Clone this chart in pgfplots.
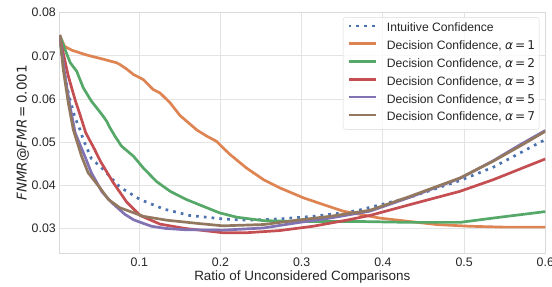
\documentclass[border=0pt]{standalone}
\usepackage{pgfplots}
\pgfplotsset{compat=1.18}
\usepackage{fontspec}
\setmainfont{Liberation Sans}
\newfontfamily\dejavu{DejaVu Sans}
\definecolor{cblue}{HTML}{4C72B0}
\definecolor{corange}{HTML}{DD8452}
\definecolor{cgreen}{HTML}{55A868}
\definecolor{cred}{HTML}{C44E52}
\definecolor{cpurple}{HTML}{8172B3}
\definecolor{cbrown}{HTML}{937860}
\definecolor{txt}{HTML}{262626}
\definecolor{gridc}{HTML}{E3E3E3}
\definecolor{spine}{HTML}{DADADA}
\begin{document}
\begin{tikzpicture}
\useasboundingbox (-59.3bp,-34bp) rectangle (492.7bp,253bp);
\begin{axis}[
  at={(0,0)}, anchor=south west,
  scale only axis, width=486bp, height=240.3bp,
  xmin=0.0015, xmax=0.6, ymin=0.0243, ymax=0.08,
  scaled ticks=false,
  xtick={0.1,0.2,0.3,0.4,0.5,0.6},
  xticklabels={0.1,0.2,0.3,0.4,0.5,0.6},
  ytick={0.03,0.04,0.05,0.06,0.07,0.08},
  yticklabels={0.03,0.04,0.05,0.06,0.07,0.08},
  major tick length=0pt,
  grid=major,
  major grid style={draw=gridc, line width=0.9bp},
  axis line style={draw=spine, line width=1bp},
  tick label style={font=\fontsize{12.4}{14}\selectfont, text=txt},
  xticklabel style={yshift=-1bp},
  label style={font=\fontsize{13.5}{15}\selectfont, text=txt},
  xlabel={Ratio of Unconsidered Comparisons},
  ylabel={{\dejavu\textit{FNMR}@\textit{FMR}\,=\,0.001}},
  xlabel style={yshift=2bp},
  ylabel style={yshift=-4bp},
  legend cell align=left,
  legend image code/.code={\draw[#1] (0bp,3bp) -- (27bp,3bp);},
  legend style={at={(1,1)}, anchor=north east, xshift=-6bp, yshift=-4.5bp,
    draw=spine, rounded corners=2.5bp, fill=white, fill opacity=0.8, text opacity=1,
    font=\fontsize{12.2}{14}\selectfont, text=txt,
    nodes={inner sep=0pt, text height=9bp, text depth=3bp},
    row sep=5.8bp, column sep=10bp, inner xsep=4bp, inner ysep=5.5bp},
  every axis plot/.append style={line width=2.7bp, line join=round},
]
\addplot[cblue, line cap=butt, dash pattern=on 2.7bp off 5.1bp] coordinates {
(0.002,0.0745) (0.006,0.0680) (0.013,0.0610) (0.021,0.0556) (0.027,0.0529)
(0.031,0.0506) (0.041,0.0462) (0.056,0.0436) (0.076,0.0396) (0.101,0.0367)
(0.130,0.0345) (0.162,0.0330) (0.203,0.0322)
(0.232,0.0319) (0.273,0.0322) (0.314,0.0328) (0.355,0.0337) (0.372,0.0343)
(0.433,0.0372) (0.495,0.0411) (0.536,0.0442) (0.600,0.0506)};
\addlegendentry{Intuitive Confidence}
\addplot[corange] coordinates {
(0.002,0.0748) (0.008,0.0722) (0.017,0.0713) (0.035,0.0702) (0.054,0.0693)
(0.072,0.0684) (0.076,0.0680) (0.084,0.0670) (0.0926,0.0657) (0.105,0.0645)
(0.117,0.0622) (0.1255,0.0614) (0.138,0.0591) (0.150,0.0562) (0.158,0.0549)
(0.171,0.0528) (0.183,0.0514) (0.195,0.0502) (0.203,0.0487) (0.212,0.0471)
(0.232,0.0440) (0.253,0.0413)
(0.273,0.0394) (0.302,0.0371) (0.327,0.0355) (0.351,0.0340) (0.396,0.0324)
(0.433,0.0316) (0.466,0.0309) (0.507,0.0305) (0.548,0.0303) (0.600,0.0303)};
\addlegendentry{Decision Confidence, {\dejavu\textit{α}\,=\,1}}
\addplot[cgreen] coordinates {
(0.002,0.0748) (0.0085,0.0715) (0.015,0.0684) (0.023,0.0664) (0.031,0.0626)
(0.041,0.0595) (0.054,0.0564) (0.060,0.0548) (0.064,0.0533) (0.070,0.0514)
(0.078,0.0491) (0.093,0.0467) (0.105,0.0440) (0.121,0.0409) (0.138,0.0386)
(0.158,0.0367) (0.179,0.0351) (0.199,0.0336) (0.220,0.0326) (0.253,0.0318)
(0.294,0.0316) (0.335,0.0316)
(0.372,0.0316) (0.433,0.0314) (0.495,0.0314) (0.536,0.0324) (0.600,0.0339)};
\addlegendentry{Decision Confidence, {\dejavu\textit{α}\,=\,2}}
\addplot[cred] coordinates {
(0.002,0.0748) (0.0044,0.0723) (0.0126,0.0653) (0.0208,0.0599) (0.029,0.0552)
(0.034,0.0522) (0.045,0.0483) (0.052,0.0456) (0.068,0.0406) (0.0845,0.0361)
(0.101,0.0330) (0.1255,0.0310) (0.156,0.0300) (0.203,0.0290) (0.232,0.0290)
(0.273,0.0295) (0.314,0.0305) (0.355,0.0319) (0.384,0.0330) (0.433,0.0355)
(0.495,0.0386) (0.536,0.0413) (0.600,0.0461)};
\addlegendentry{Decision Confidence, {\dejavu\textit{α}\,=\,3}}
\addplot[cpurple] coordinates {
(0.002,0.0748) (0.0085,0.0653) (0.0147,0.0583) (0.021,0.0522) (0.024,0.0508)
(0.033,0.0467) (0.041,0.0429) (0.054,0.0385) (0.066,0.0360) (0.082,0.0333)
(0.093,0.0320) (0.103,0.0313) (0.115,0.0305) (0.132,0.0300) (0.156,0.0297)
(0.203,0.0296) (0.253,0.0301)
(0.294,0.0313) (0.335,0.0324) (0.384,0.0340) (0.433,0.0372) (0.495,0.0416)
(0.536,0.0457) (0.569,0.0494) (0.600,0.0527)};
\addlegendentry{Decision Confidence, {\dejavu\textit{α}\,=\,5}}
\addplot[cbrown] coordinates {
(0.002,0.0748) (0.0064,0.0668) (0.0126,0.0591) (0.0187,0.0529) (0.029,0.0467)
(0.037,0.0429) (0.052,0.0393) (0.062,0.0367) (0.076,0.0348) (0.105,0.0328)
(0.134,0.0319) (0.175,0.0311) (0.203,0.0306) (0.253,0.0309) (0.294,0.0319)
(0.335,0.0328) (0.384,0.0342) (0.433,0.0374) (0.495,0.0417) (0.536,0.0456)
(0.569,0.0491) (0.600,0.0525)};
\addlegendentry{Decision Confidence, {\dejavu\textit{α}\,=\,7}}
\end{axis}
\end{tikzpicture}
\end{document}
